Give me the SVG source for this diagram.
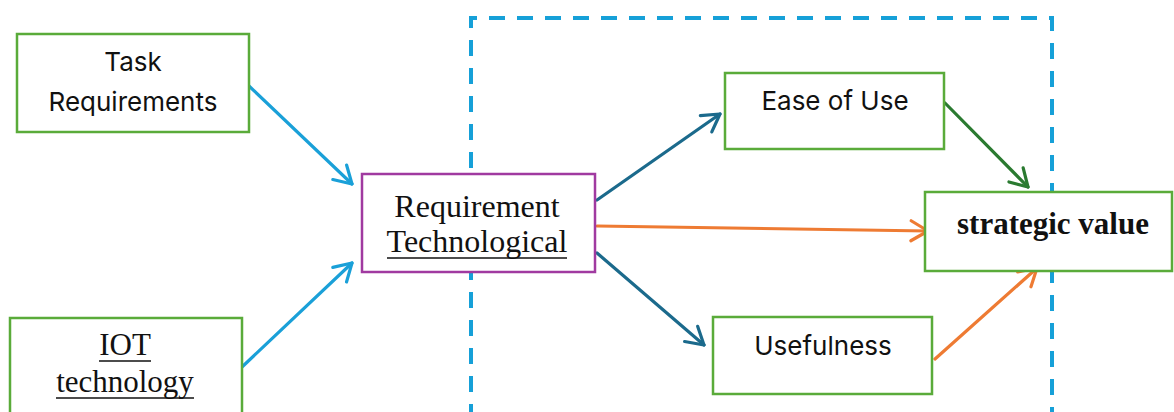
<svg xmlns="http://www.w3.org/2000/svg" width="1174" height="412" viewBox="0 0 1174 412">
  <style>
    .box { fill: #ffffff; stroke: #5aab3a; stroke-width: 2.5; }
    .box-purple { fill: #ffffff; stroke: #a03aa0; stroke-width: 2.5; }
    .sans { font-family: "Inter", "Liberation Sans", sans-serif; font-size: 26px; fill: #111111; text-anchor: middle; }
    .serif { font-family: "Liberation Serif", "Times New Roman", serif; font-size: 31px; fill: #111111; text-anchor: middle; }
    .big { font-size: 32px; }
    .bold { font-weight: bold; }
    .uline { stroke: #111111; stroke-width: 1.5; }
    .frame { fill: none; stroke: #16a0d8; stroke-width: 4; stroke-dasharray: 16 12; }
    .conn { fill: none; stroke-width: 3.2; stroke-linecap: round; }
    .c-light { stroke: #1aa0d8; }
    .c-dark { stroke: #1b6a8c; }
    .c-orange { stroke: #ee7b33; }
    .c-green { stroke: #2a7a30; }
    .head { fill: none; stroke-width: 3.2; stroke-linecap: round; stroke-linejoin: round; }
  </style>
  <defs>
    <marker id="arr-light" markerUnits="userSpaceOnUse" viewBox="-22 -14 26 28" refX="0" refY="0" markerWidth="26" markerHeight="28" orient="auto">
      <path class="head" d="M -17 -10 L 0 0 L -17 10" stroke="#1aa0d8"/>
    </marker>
    <marker id="arr-dark" markerUnits="userSpaceOnUse" viewBox="-22 -14 26 28" refX="0" refY="0" markerWidth="26" markerHeight="28" orient="auto">
      <path class="head" d="M -17 -10 L 0 0 L -17 10" stroke="#1b6a8c"/>
    </marker>
    <marker id="arr-orange" markerUnits="userSpaceOnUse" viewBox="-22 -14 26 28" refX="0" refY="0" markerWidth="26" markerHeight="28" orient="auto">
      <path class="head" d="M -17 -10 L 0 0 L -17 10" stroke="#ee7b33"/>
    </marker>
    <marker id="arr-green" markerUnits="userSpaceOnUse" viewBox="-22 -14 26 28" refX="0" refY="0" markerWidth="26" markerHeight="28" orient="auto">
      <path class="head" d="M -17 -10 L 0 0 L -17 10" stroke="#2a7a30"/>
    </marker>
  </defs>

  <rect width="1174" height="412" fill="#ffffff"/>

  <!-- dashed boundary -->
  <g id="boundary">
    <path class="frame" d="M 471 420 L 471 18 L 1052 18 L 1052 420"/>
  </g>

  <!-- connectors -->
  <g id="connectors">
    <line class="conn c-light" x1="249" y1="86" x2="352" y2="184" marker-end="url(#arr-light)"/>
    <line class="conn c-light" x1="242" y1="367" x2="352" y2="263" marker-end="url(#arr-light)"/>
    <line class="conn c-dark" x1="597" y1="200" x2="720" y2="114" marker-end="url(#arr-dark)"/>
    <line class="conn c-dark" x1="597" y1="253" x2="704" y2="345" marker-end="url(#arr-dark)"/>
    <line class="conn c-orange" x1="597" y1="226" x2="928" y2="231" marker-end="url(#arr-orange)"/>
    <line class="conn c-green" x1="945" y1="103" x2="1028" y2="187" marker-end="url(#arr-green)"/>
    <line class="conn c-orange" x1="935" y1="359" x2="1037" y2="268" marker-end="url(#arr-orange)"/>
  </g>

  <g id="task-requirements">
    <rect class="box" x="17" y="34" width="232" height="98"/>
    <text class="sans" x="133" y="71">Task</text>
    <text class="sans" x="133" y="111">Requirements</text>
  </g>

  <g id="iot-technology">
    <rect class="box" x="10" y="318" width="232" height="110"/>
    <text class="serif" x="125" y="355">IOT</text>
    <line class="uline" x1="99" y1="361" x2="151" y2="361"/>
    <text class="serif" x="125" y="392">technology</text>
    <line class="uline" x1="56" y1="398" x2="194" y2="398"/>
  </g>

  <g id="requirement-technological">
    <rect class="box-purple" x="362" y="174" width="233" height="98"/>
    <text class="serif big" x="477" y="217">Requirement</text>
    <text class="serif big" x="477" y="252">Technological</text>
    <line class="uline" x1="387" y1="258" x2="567" y2="258"/>
  </g>

  <g id="ease-of-use">
    <rect class="box" x="725" y="73" width="219" height="76"/>
    <text class="sans" x="835" y="110">Ease of Use</text>
  </g>

  <g id="usefulness">
    <rect class="box" x="713" y="317" width="219" height="77"/>
    <text class="sans" x="823" y="355">Usefulness</text>
  </g>

  <g id="strategic-value">
    <rect class="box" x="925" y="192" width="247" height="79"/>
    <text class="serif bold" x="1053" y="234">strategic value</text>
  </g>
</svg>
